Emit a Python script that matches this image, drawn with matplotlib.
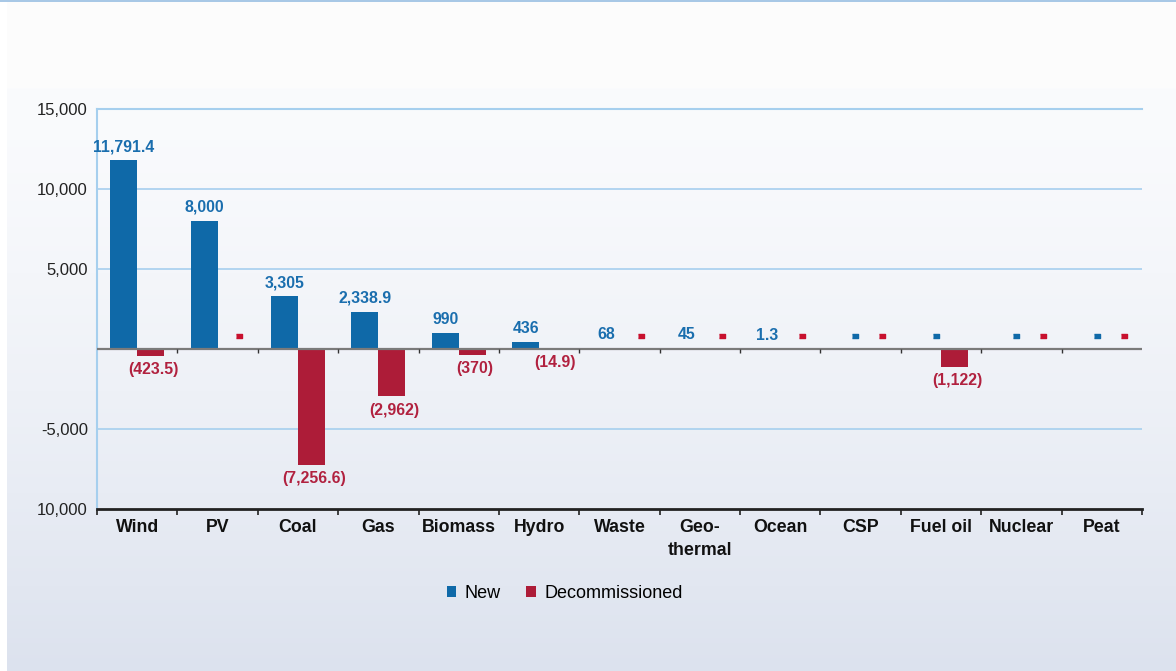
"""New vs decommissioned capacity by technology."""
import matplotlib
matplotlib.use("Agg")
import matplotlib.pyplot as plt
import matplotlib.transforms as mtransforms
from matplotlib.patches import Patch
import numpy as np

# ── data ──
categories = ["Wind", "PV", "Coal", "Gas", "Biomass", "Hydro", "Waste",
               "Geo-\nthermal", "Ocean", "CSP", "Fuel oil", "Nuclear", "Peat"]
new_mw = [11791.4, 8000, 3305, 2338.9, 990, 436, 68, 45, 1.3, 0, 0, 0, 0]
decom_mw = [-423.5, 0, -7256.6, -2962, -370, -14.9, 0, 0, 0, 0, -1122, 0, 0]
yticks = [-10000, -5000, 0, 5000, 10000, 15000]
ytick_labels = ["10,000", "-5,000", "", "5,000", "10,000", "15,000"]

BLUE = "#0f69a8"
RED = "#ad1c38"
BLUE_TXT = "#1a6eae"
RED_TXT = "#b1213f"
GRID = "#a6cfee"

plt.rcParams["font.family"] = ["Liberation Sans", "DejaVu Sans"]

W, H = 1176, 671
fig = plt.figure(figsize=(W / 100, H / 100), dpi=100)

# ── background panel (soft vertical gradient) ──
bg = fig.add_axes([0, 0, 1, 1], zorder=-10)
bg.axis("off")
img = np.ones((H, W, 3))
img[:, :] = np.array([252, 252, 252]) / 255
top_c = np.array([250, 251, 253]) / 255
bot_c = np.array([220, 226, 238]) / 255
rows = np.arange(88, H)
t = ((rows - 88) / (H - 88)) ** 1.4
img[88:, 7:] = (top_c[None, :] * (1 - t[:, None]) + bot_c[None, :] * t[:, None])[:, None, :]
img[:, :7] = 1.0
img[0:2, :] = np.array([168, 200, 230]) / 255
bg.imshow(img, aspect="auto", extent=[0, 1, 0, 1], interpolation="bilinear")
bg.set_xlim(0, 1)
bg.set_ylim(0, 1)

# ── main axes ──
ax = fig.add_axes([97 / W, 1 - 509 / H, (1142 - 97) / W, 400 / H])
ax.set_facecolor("none")
x = np.arange(len(categories))
w = 0.336
ax.bar(x - w / 2, new_mw, w, color=BLUE, zorder=2)
ax.bar(x + w / 2, decom_mw, w, color=RED, zorder=2)

ax.set_xlim(-0.5, len(categories) - 0.5)
ax.set_ylim(-10000, 15000)

for gy in [-5000, 5000, 10000]:
    ax.axhline(gy, color=GRID, lw=1.2, zorder=1)
ax.axhline(0, color="#7a7a7a", lw=1.6, zorder=3)
ax.vlines(np.arange(1, len(categories)) - 0.5, -280, 0, color="#333333", lw=1, zorder=3)

for s in ["left", "top"]:
    ax.spines[s].set_color(GRID)
    ax.spines[s].set_linewidth(1.5)
ax.spines["right"].set_visible(False)
ax.spines["bottom"].set_color("#222222")
ax.spines["bottom"].set_linewidth(2)

ax.set_yticks(yticks)
ax.set_yticklabels(ytick_labels, fontsize=12, color="#222222")
ax.tick_params(axis="y", length=0, pad=6.5)

ax.set_xticks(np.arange(len(categories) + 1) - 0.5)
ax.set_xticklabels([])
ax.tick_params(axis="x", which="major", direction="out", length=4, width=1.2, color="#222222")
ax.set_xticks(x, minor=True)
ax.set_xticklabels(categories, minor=True, fontsize=12.8, fontweight="bold",
                   color="#111111", linespacing=1.4, va="top")
ax.tick_params(axis="x", which="minor", length=0, pad=7.5)


def fmt(v):
    v = abs(v)
    return f"{v:,.0f}" if float(v).is_integer() else f"{v:,.1f}"


up = mtransforms.offset_copy(ax.transData, fig=fig, x=0, y=9.8, units="points")
dash_off = 6.0
dash = [(-1, -0.5), (1, -0.5), (1, 0.5), (-1, 0.5)]
for i, (n, d) in enumerate(zip(new_mw, decom_mw)):
    if n > 0:
        ax.text(i - w / 2, n, fmt(n), transform=up, ha="center", va="center",
                fontsize=11.4, fontweight="bold", color=BLUE_TXT, zorder=4)
    else:
        tr = mtransforms.offset_copy(ax.transData, fig=fig, x=dash_off, y=9.4, units="points")
        ax.plot(i - w / 2, 0, marker=dash, markersize=4.5, color=BLUE, transform=tr,
                linestyle="none", zorder=4)
    if d < 0:
        down = mtransforms.offset_copy(ax.transData, fig=fig, x=2, y=-9.8, units="points")
        ax.text(i + w / 2, d, f"({fmt(d)})", transform=down, ha="center", va="center",
                fontsize=11.4, fontweight="bold", color=RED_TXT, zorder=4)
    else:
        tr = mtransforms.offset_copy(ax.transData, fig=fig, x=dash_off, y=9.4, units="points")
        ax.plot(i + w / 2, 0, marker=dash, markersize=4.5, color="#c8102e", transform=tr,
                linestyle="none", zorder=4)

handles = [Patch(facecolor=BLUE, label="New"), Patch(facecolor=RED, label="Decommissioned")]
fig.legend(handles=handles, loc="center", bbox_to_anchor=(564.5 / W, 1 - 593 / H),
           ncol=2, frameon=False, fontsize=13, handlelength=0.55, handleheight=0.55,
           handletextpad=0.45, columnspacing=1.4)

fig.savefig("out.png", dpi=100)
plt.close(fig)
